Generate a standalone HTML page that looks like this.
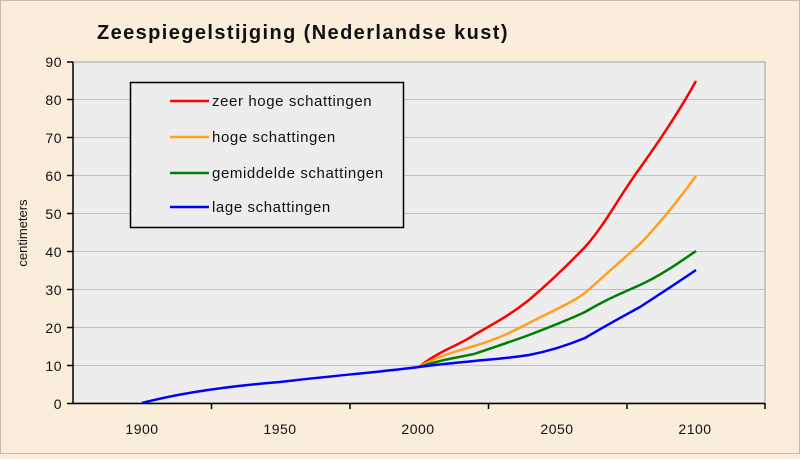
<!DOCTYPE html>
<html><head><style>
body{margin:0;width:800px;height:454px;overflow:hidden;background:#faedd9;font-family:"Liberation Sans",sans-serif}
</style></head><body>
<svg width="800" height="454" xmlns="http://www.w3.org/2000/svg" font-family="Liberation Sans, sans-serif">
<rect x="0.5" y="0.5" width="799" height="453" fill="#faedd9" stroke="#c8bca8"/>
<text x="97" y="39" font-size="20" font-weight="bold" fill="#111" letter-spacing="1.4">Zeespiegelstijging (Nederlandse kust)</text>
<rect x="73" y="62" width="692" height="341" fill="#ededed" stroke="#a0a0a0"/>
<g stroke="#c0c0c0" stroke-width="1">
<line x1="73" x2="765" y1="99.5" y2="99.5"/><line x1="73" x2="765" y1="137.5" y2="137.5"/><line x1="73" x2="765" y1="175.5" y2="175.5"/><line x1="73" x2="765" y1="213.5" y2="213.5"/><line x1="73" x2="765" y1="251.5" y2="251.5"/><line x1="73" x2="765" y1="289.5" y2="289.5"/><line x1="73" x2="765" y1="327.5" y2="327.5"/><line x1="73" x2="765" y1="365.5" y2="365.5"/>
</g>
<g stroke="#000" stroke-width="1.5">
<line x1="73" y1="62" x2="73" y2="404"/><line x1="72" y1="403.5" x2="765" y2="403.5"/>
<line x1="67" x2="73" y1="62" y2="62"/><line x1="67" x2="73" y1="99.5" y2="99.5"/><line x1="67" x2="73" y1="137.5" y2="137.5"/><line x1="67" x2="73" y1="175.5" y2="175.5"/><line x1="67" x2="73" y1="213.5" y2="213.5"/><line x1="67" x2="73" y1="251.5" y2="251.5"/><line x1="67" x2="73" y1="289.5" y2="289.5"/><line x1="67" x2="73" y1="327.5" y2="327.5"/><line x1="67" x2="73" y1="365.5" y2="365.5"/><line x1="67" x2="73" y1="403.5" y2="403.5"/>
<line x1="211.5" x2="211.5" y1="403" y2="409"/><line x1="350" x2="350" y1="403" y2="409"/><line x1="488.5" x2="488.5" y1="403" y2="409"/><line x1="627" x2="627" y1="403" y2="409"/><line x1="765" x2="765" y1="403" y2="409"/>
</g>
<g font-size="14" fill="#111" text-anchor="end" letter-spacing="0.5">
<text x="62" y="67">90</text><text x="62" y="105">80</text><text x="62" y="143">70</text><text x="62" y="181">60</text><text x="62" y="219">50</text><text x="62" y="257">40</text><text x="62" y="295">30</text><text x="62" y="333">20</text><text x="62" y="371">10</text><text x="62" y="409">0</text>
</g>
<g font-size="14" fill="#111" text-anchor="middle" letter-spacing="0.5">
<text x="142" y="434">1900</text><text x="280" y="434">1950</text><text x="418" y="434">2000</text><text x="557" y="434">2050</text><text x="695" y="434">2100</text>
</g>
<text transform="translate(27,233) rotate(-90)" font-size="13" fill="#111" text-anchor="middle">centimeters</text>
<g fill="none" stroke-width="2.5" stroke-linejoin="round">
<path stroke="#ff0000" d="M419,367 C440,350 460,345 474,335 C495,323 510,315 529,300 C550,282 565,268 585,247 C605,225 620,195 640,168 C660,140 680,110 696,81"/>
<path stroke="#ffa020" d="M419,367 C440,355 455,352 474,346 C495,340 510,333 529,323 C550,312 568,305 585,293 C605,275 620,262 640,244 C660,223 680,198 696,176"/>
<path stroke="#008000" d="M419,367 C440,360 455,358 474,354 C495,347 510,342 529,335 C550,327 568,320 585,312 C605,300 620,294 640,285 C660,276 680,262 696,251"/>
<path stroke="#0000ff" d="M142,403 C180,393 230,386 280,382 C330,376 380,372 419,367 C440,364 455,363 474,361 C495,359 510,358 529,355 C550,351 568,345 585,338 C605,326 620,318 640,307 C660,294 680,281 696,270"/>
</g>
<rect x="130.5" y="82.5" width="273" height="145" fill="#ededed" stroke="#000" stroke-width="1.5"/>
<g stroke-width="2.5">
<line x1="170" x2="209" y1="101" y2="101" stroke="#ff0000"/>
<line x1="170" x2="209" y1="137" y2="137" stroke="#ffa020"/>
<line x1="170" x2="209" y1="173" y2="173" stroke="#008000"/>
<line x1="170" x2="209" y1="207" y2="207" stroke="#0000ff"/>
</g>
<g font-size="15" fill="#111" letter-spacing="0.6">
<text x="212" y="106">zeer hoge schattingen</text>
<text x="212" y="142">hoge schattingen</text>
<text x="212" y="178">gemiddelde schattingen</text>
<text x="212" y="212">lage schattingen</text>
</g>
</svg>
</body></html>
